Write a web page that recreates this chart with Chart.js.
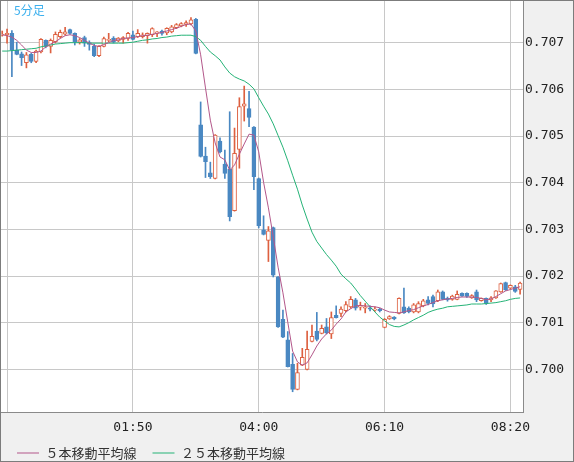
<!DOCTYPE html>
<html lang="ja">
<head>
<meta charset="utf-8">
<title>5分足</title>
<script src="https://cdn.jsdelivr.net/npm/chart.js@4.4.1/dist/chart.umd.min.js"></script>
<style>
  html, body { margin: 0; padding: 0; background: #f0f0f0; }
  #wrap { width: 574px; height: 462px; }
</style>
</head>
<body>
<div id="wrap"><canvas id="candleChart" width="574" height="462"></canvas></div>
<script>
// 5-minute candles, 23:35 .. 08:30
const opens = [
  0.70716, 0.70717, 0.70720, 0.70684, 0.70676, 0.70657, 0.70675, 0.70660, 0.70680, 0.70705,
  0.70692, 0.70702, 0.70713, 0.70718, 0.70728, 0.70720, 0.70701, 0.70711, 0.70700, 0.70692,
  0.70672, 0.70692, 0.70705, 0.70710, 0.70704, 0.70707, 0.70709, 0.70717, 0.70713, 0.70713,
  0.70715, 0.70717, 0.70720, 0.70725, 0.70721, 0.70723, 0.70732, 0.70736, 0.70739, 0.70740,
  0.70750, 0.70524, 0.70457, 0.70421, 0.70409, 0.70489, 0.70440, 0.70429, 0.70340, 0.70471,
  0.70564, 0.70559, 0.70519, 0.70409, 0.70299, 0.70276, 0.70304, 0.70198, 0.70107, 0.70063,
  0.70011, 0.69957, 0.70009, 0.70000, 0.70060, 0.70082, 0.70077, 0.70091, 0.70076, 0.70116,
  0.70120, 0.70126, 0.70134, 0.70149, 0.70133, 0.70131, 0.70132, 0.70127, 0.70129, 0.70090,
  0.70108, 0.70112, 0.70120, 0.70134, 0.70131, 0.70123, 0.70123, 0.70136, 0.70149, 0.70156,
  0.70147, 0.70166, 0.70152, 0.70150, 0.70150, 0.70163, 0.70163, 0.70153, 0.70166, 0.70147,
  0.70152, 0.70149, 0.70153, 0.70166, 0.70186, 0.70174, 0.70177, 0.70171
];
const highs = [
  0.70725, 0.70729, 0.70726, 0.70701, 0.70680, 0.70679, 0.70677, 0.70684, 0.70709, 0.70706,
  0.70708, 0.70723, 0.70727, 0.70733, 0.70729, 0.70721, 0.70709, 0.70714, 0.70704, 0.70697,
  0.70694, 0.70712, 0.70720, 0.70713, 0.70711, 0.70713, 0.70722, 0.70725, 0.70728, 0.70721,
  0.70721, 0.70732, 0.70724, 0.70727, 0.70732, 0.70737, 0.70741, 0.70743, 0.70747, 0.70754,
  0.70752, 0.70573, 0.70476, 0.70444, 0.70503, 0.70496, 0.70470, 0.70552, 0.70517, 0.70582,
  0.70607, 0.70596, 0.70520, 0.70410, 0.70329, 0.70306, 0.70305, 0.70199, 0.70127, 0.70081,
  0.70034, 0.70013, 0.70045, 0.70082, 0.70095, 0.70122, 0.70095, 0.70109, 0.70123, 0.70136,
  0.70134, 0.70145, 0.70156, 0.70152, 0.70144, 0.70141, 0.70136, 0.70134, 0.70131, 0.70109,
  0.70115, 0.70113, 0.70153, 0.70174, 0.70134, 0.70141, 0.70145, 0.70150, 0.70156, 0.70159,
  0.70170, 0.70168, 0.70155, 0.70159, 0.70168, 0.70164, 0.70164, 0.70160, 0.70170, 0.70153,
  0.70153, 0.70156, 0.70169, 0.70185, 0.70187, 0.70181, 0.70180, 0.70187
];
const lows = [
  0.70714, 0.70699, 0.70627, 0.70674, 0.70651, 0.70646, 0.70657, 0.70657, 0.70678, 0.70689,
  0.70678, 0.70699, 0.70710, 0.70716, 0.70718, 0.70695, 0.70697, 0.70692, 0.70684, 0.70670,
  0.70670, 0.70691, 0.70702, 0.70699, 0.70702, 0.70699, 0.70705, 0.70706, 0.70711, 0.70710,
  0.70699, 0.70713, 0.70713, 0.70716, 0.70717, 0.70721, 0.70730, 0.70734, 0.70735, 0.70738,
  0.70676, 0.70455, 0.70411, 0.70409, 0.70408, 0.70464, 0.70409, 0.70318, 0.70339, 0.70431,
  0.70532, 0.70520, 0.70385, 0.70303, 0.70288, 0.70231, 0.70198, 0.70090, 0.70068, 0.70005,
  0.69952, 0.69956, 0.70008, 0.69999, 0.70059, 0.70061, 0.70076, 0.70076, 0.70066, 0.70110,
  0.70113, 0.70123, 0.70131, 0.70127, 0.70127, 0.70121, 0.70125, 0.70124, 0.70123, 0.70089,
  0.70107, 0.70106, 0.70119, 0.70120, 0.70121, 0.70121, 0.70121, 0.70134, 0.70138, 0.70134,
  0.70145, 0.70149, 0.70146, 0.70148, 0.70149, 0.70156, 0.70154, 0.70152, 0.70145, 0.70146,
  0.70139, 0.70145, 0.70152, 0.70165, 0.70169, 0.70172, 0.70165, 0.70161
];
const closes = [
  0.70718, 0.70720, 0.70684, 0.70675, 0.70668, 0.70674, 0.70660, 0.70682, 0.70707, 0.70692,
  0.70705, 0.70718, 0.70722, 0.70723, 0.70720, 0.70702, 0.70706, 0.70699, 0.70696, 0.70672,
  0.70692, 0.70709, 0.70707, 0.70701, 0.70710, 0.70711, 0.70720, 0.70707, 0.70720, 0.70717,
  0.70720, 0.70730, 0.70723, 0.70720, 0.70731, 0.70734, 0.70739, 0.70741, 0.70743, 0.70749,
  0.70677, 0.70456, 0.70445, 0.70413, 0.70502, 0.70466, 0.70420, 0.70327, 0.70463, 0.70563,
  0.70569, 0.70540, 0.70413, 0.70308, 0.70289, 0.70297, 0.70202, 0.70091, 0.70069, 0.70006,
  0.69957, 0.69993, 0.70026, 0.70043, 0.70071, 0.70064, 0.70088, 0.70078, 0.70111, 0.70111,
  0.70129, 0.70139, 0.70150, 0.70131, 0.70136, 0.70134, 0.70129, 0.70129, 0.70126, 0.70107,
  0.70113, 0.70108, 0.70152, 0.70121, 0.70123, 0.70138, 0.70141, 0.70147, 0.70141, 0.70140,
  0.70166, 0.70150, 0.70149, 0.70157, 0.70161, 0.70157, 0.70156, 0.70158, 0.70149, 0.70152,
  0.70141, 0.70153, 0.70168, 0.70184, 0.70170, 0.70180, 0.70167, 0.70185
];
const ma5 = [
  0.70717, 0.70715, 0.70712, 0.70705, 0.70695, 0.70684, 0.70679, 0.70679, 0.70682, 0.70691,
  0.70697, 0.70702, 0.70709, 0.70715, 0.70717, 0.70715, 0.70711, 0.70705, 0.70699, 0.70694,
  0.70692, 0.70696, 0.70700, 0.70705, 0.70706, 0.70709, 0.70710, 0.70711, 0.70713, 0.70715,
  0.70716, 0.70718, 0.70720, 0.70722, 0.70725, 0.70728, 0.70731, 0.70735, 0.70739, 0.70740,
  0.70725, 0.70674, 0.70603, 0.70534, 0.70485, 0.70455, 0.70449, 0.70427, 0.70438, 0.70461,
  0.70483, 0.70504, 0.70502, 0.70466, 0.70401, 0.70346, 0.70284, 0.70219, 0.70164, 0.70101,
  0.70039, 0.70016, 0.70009, 0.70014, 0.70031, 0.70050, 0.70065, 0.70076, 0.70084, 0.70097,
  0.70108, 0.70123, 0.70130, 0.70136, 0.70137, 0.70136, 0.70135, 0.70134, 0.70132, 0.70127,
  0.70123, 0.70122, 0.70121, 0.70123, 0.70126, 0.70128, 0.70132, 0.70136, 0.70139, 0.70143,
  0.70147, 0.70149, 0.70151, 0.70152, 0.70154, 0.70155, 0.70155, 0.70155, 0.70154, 0.70152,
  0.70149, 0.70151, 0.70156, 0.70162, 0.70168, 0.70171, 0.70174, 0.70177
];
const ma25 = [
  0.70682, 0.70682, 0.70683, 0.70684, 0.70685, 0.70686, 0.70687, 0.70688, 0.70691, 0.70693,
  0.70695, 0.70697, 0.70698, 0.70699, 0.70700, 0.70700, 0.70700, 0.70700, 0.70699, 0.70699,
  0.70699, 0.70699, 0.70699, 0.70699, 0.70699, 0.70699, 0.70700, 0.70701, 0.70703, 0.70705,
  0.70706, 0.70708, 0.70709, 0.70711, 0.70712, 0.70714, 0.70715, 0.70716, 0.70716, 0.70716,
  0.70713, 0.70705, 0.70692, 0.70680, 0.70672, 0.70663, 0.70648, 0.70635, 0.70627, 0.70622,
  0.70618, 0.70611, 0.70601, 0.70582, 0.70564, 0.70547, 0.70526, 0.70501, 0.70476, 0.70447,
  0.70416, 0.70386, 0.70352, 0.70322, 0.70294, 0.70274, 0.70260, 0.70246, 0.70234, 0.70221,
  0.70204, 0.70194, 0.70185, 0.70172, 0.70158, 0.70146, 0.70134, 0.70123, 0.70112, 0.70104,
  0.70096, 0.70092, 0.70091, 0.70095, 0.70100, 0.70106, 0.70111, 0.70116, 0.70122, 0.70126,
  0.70129, 0.70131, 0.70134, 0.70135, 0.70136, 0.70137, 0.70138, 0.70140, 0.70140, 0.70140,
  0.70141, 0.70142, 0.70143, 0.70145, 0.70147, 0.70150, 0.70152, 0.70153
];

// axis ticks
const xTickIndex = [1, 27, 53, 79, 105];
const xTickLabels = ['', '01:50', '04:00', '06:10', '08:20'];
const yTicks = [0.700, 0.701, 0.702, 0.703, 0.704, 0.705, 0.706, 0.707];

const upColor = '#dd6040';
const downColor = '#4a88c2';
const ma5Color = '#b3578a';
const ma25Color = '#25b377';
const tickFont = { family: '"DejaVu Sans Mono", monospace', size: 13 };

const PLOT_BOTTOM = 412;
const PAD_BOTTOM = -30;

const idx = opens.map((_, i) => i);
const isUp = idx.map(i => closes[i] >= opens[i]);
const candleColors = isUp.map(u => (u ? upColor : downColor));

const framePlugin = {
  id: 'frame',
  beforeDraw(chart) {
    const { ctx, chartArea: a, width, height } = chart;
    ctx.save();
    ctx.fillStyle = '#f0f0f0';
    ctx.fillRect(0, 0, width, height);
    ctx.fillStyle = '#ffffff';
    ctx.fillRect(a.left, a.top, a.right - a.left, a.bottom - a.top);
    ctx.restore();
  },
  afterLayout(chart) {
    // put the legend row where the reference has it
    const legend = chart.legend;
    const h = legend.bottom - legend.top;
    legend.top = 453 - 6.5 - 16;
    legend.bottom = legend.top + h;
  },
  afterDraw(chart) {
    const { ctx, chartArea: a, width, height } = chart;
    ctx.save();
    ctx.fillStyle = '#3cb0ee';
    ctx.font = '12px "Noto Sans CJK JP", sans-serif';
    ctx.textBaseline = 'middle';
    ctx.fillText('5分足', a.left + 13, 10);
    ctx.strokeStyle = '#7c7c7c';
    ctx.lineWidth = 1;
    ctx.strokeRect(0.5, 0.5, width - 1, height - 1);
    ctx.restore();
  }
};

new Chart(document.getElementById('candleChart'), {
  type: 'bar',
  data: {
    datasets: [
      {
        label: 'wick',
        data: idx.map(i => ({ x: i, y: [lows[i], highs[i]] })),
        backgroundColor: candleColors,
        barThickness: 1,
        grouped: false,
        order: 4
      },
      {
        label: 'body',
        data: idx.map(i => ({ x: i, y: [opens[i], closes[i]] })),
        backgroundColor: isUp.map(u => (u ? '#ffffff' : downColor)),
        borderColor: candleColors,
        borderWidth: 1,
        borderSkipped: false,
        barThickness: 4,
        minBarLength: 1,
        grouped: false,
        order: 3
      },
      {
        type: 'line',
        label: '５本移動平均線',
        data: idx.map(i => ({ x: i, y: ma5[i] })),
        borderColor: ma5Color,
        backgroundColor: ma5Color,
        borderWidth: 1,
        pointRadius: 0,
        tension: 0,
        order: 0
      },
      {
        type: 'line',
        label: '２５本移動平均線',
        data: idx.map(i => ({ x: i, y: ma25[i] })),
        borderColor: ma25Color,
        backgroundColor: ma25Color,
        borderWidth: 1,
        pointRadius: 0,
        tension: 0,
        order: 1
      }
    ]
  },
  options: {
    responsive: false,
    animation: false,
    devicePixelRatio: 1,
    layout: { padding: { left: 1, top: 1, right: 0, bottom: PAD_BOTTOM } },
    plugins: {
      tooltip: { enabled: false },
      legend: {
        position: 'bottom',
        align: 'start',
        labels: {
          filter: item => item.datasetIndex >= 2,
          usePointStyle: true,
          pointStyle: 'line',
          pointStyleWidth: 22,
          padding: 16,
          color: '#333333',
          font: { family: '"Noto Sans CJK JP", sans-serif', size: 13 }
        }
      }
    },
    scales: {
      x: {
        type: 'linear',
        min: -0.25,
        max: 107.6,
        offset: false,
        grid: { color: '#c8c8c8', drawTicks: false, offset: false },
        border: { color: '#8a8a8a' },
        afterBuildTicks: s => { s.ticks = xTickIndex.map(v => ({ value: v })); },
        afterFit: s => {
          s.height = 462 - PAD_BOTTOM - s.chart.legend.height - PLOT_BOTTOM;
          s.paddingLeft = 0;
          s.paddingRight = 0;
        },
        ticks: {
          padding: 8,
          maxRotation: 0,
          autoSkip: false,
          color: '#222222',
          font: tickFont,
          callback: (v, i) => xTickLabels[i]
        }
      },
      y: {
        position: 'right',
        min: 0.699086,
        max: 0.707893,
        grid: { color: '#c8c8c8', drawTicks: false },
        border: { color: '#8a8a8a' },
        afterBuildTicks: s => { s.ticks = yTicks.map(v => ({ value: v })); },
        afterFit: s => {
          s.width = 51;
          s.paddingTop = 0;
          s.paddingBottom = 0;
        },
        ticks: {
          padding: 2,
          color: '#222222',
          font: tickFont,
          callback: v => v.toFixed(3)
        }
      }
    }
  },
  plugins: [framePlugin]
});
</script>
</body>
</html>
